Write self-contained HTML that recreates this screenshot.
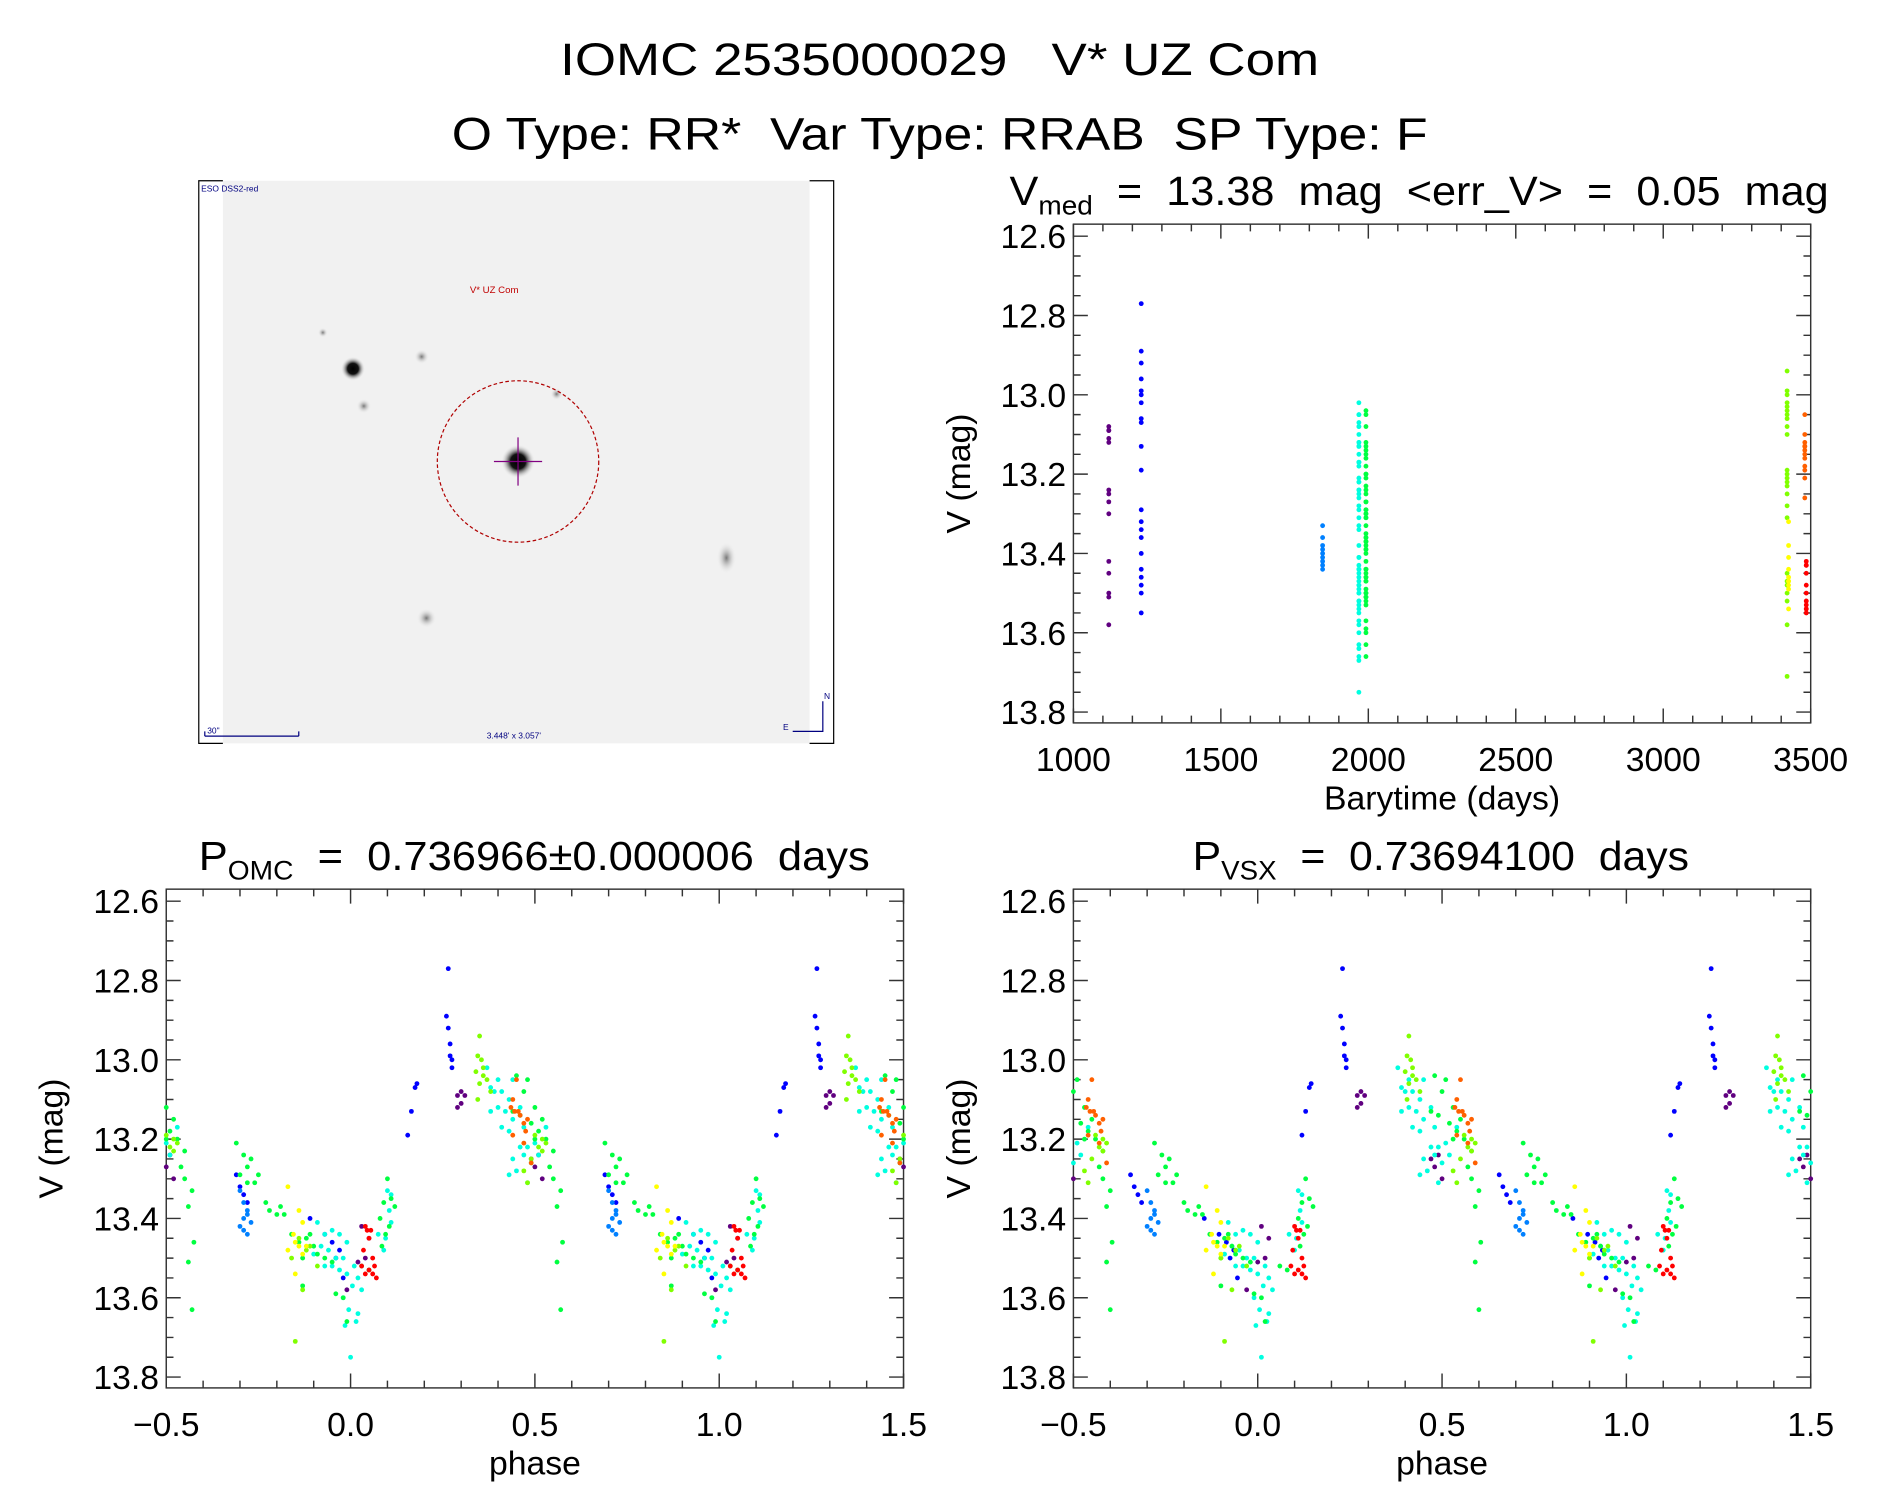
<!DOCTYPE html>
<html><head><meta charset="utf-8">
<style>
html,body{margin:0;padding:0;background:#fff;}
svg{display:block;}
text{font-family:"Liberation Sans","DejaVu Sans",sans-serif;fill:#000;white-space:pre;}
</style></head>
<body>
<svg id="fig" xmlns="http://www.w3.org/2000/svg" width="1889" height="1494" viewBox="0 0 1568 1240">
  <rect x="0" y="0" width="1568" height="1240" fill="#fff"/>
  <text x="465" y="62" font-size="38" textLength="630" lengthAdjust="spacingAndGlyphs" xml:space="preserve">IOMC 2535000029   V* UZ Com</text>
  <text x="375" y="124" font-size="38" textLength="810" lengthAdjust="spacingAndGlyphs" xml:space="preserve">O Type: RR*  Var Type: RRAB  SP Type: F</text>

  <g>
    <defs>
      <radialGradient id="star"><stop offset="0" stop-color="#000"/><stop offset="0.45" stop-color="#111"/><stop offset="1" stop-color="#eee" stop-opacity="0"/></radialGradient>
      <radialGradient id="faint"><stop offset="0" stop-color="#777"/><stop offset="1" stop-color="#eee" stop-opacity="0"/></radialGradient>
    </defs>
    <rect x="185" y="150" width="487" height="467" fill="#f1f1f1"/>
    <path d="M185,150 H165 V617 H185 M672,150 H692 V617 H672" fill="none" stroke="#000" stroke-width="1"/>
    <circle cx="430" cy="383" r="14" fill="url(#star)"/>
    <circle cx="293" cy="306" r="10" fill="url(#star)"/>
    <circle cx="350" cy="296" r="6" fill="url(#faint)"/>
    <circle cx="302" cy="337" r="6" fill="url(#faint)"/>
    <circle cx="462" cy="327" r="5" fill="url(#faint)"/>
    <circle cx="354" cy="513" r="8" fill="url(#faint)"/>
    <ellipse cx="603" cy="463" rx="8" ry="13" fill="url(#faint)"/>
    <circle cx="268" cy="276" r="4" fill="url(#faint)"/>
    <circle cx="430" cy="383" r="67" fill="none" stroke="#b00000" stroke-width="1" stroke-dasharray="3,2"/>
    <path d="M410,383 H450 M430,363 V403" stroke="#800080" stroke-width="1"/>
    <text x="390" y="243" font-size="8" style="fill:#c00000">V* UZ Com</text>
    <text x="167" y="159" font-size="7" style="fill:#000080">ESO DSS2-red</text>
    <path d="M170,611 H248 M170,607 V611 M248,607 V611" stroke="#000080" stroke-width="1"/>
    <text x="172" y="609" font-size="7" style="fill:#000080">30"</text>
    <text x="404" y="613" font-size="7" style="fill:#000080">3.448' x 3.057'</text>
    <path d="M683,582 V607 H658" fill="none" stroke="#000080" stroke-width="1"/>
    <text x="684" y="580" font-size="7" style="fill:#000080">N</text>
    <text x="650" y="606" font-size="7" style="fill:#000080">E</text>
  </g>

  <g id="p-time"></g>
  <g id="p-omc"></g>
  <g id="p-vsx"></g>
</svg>
<script>
// ---- data ----
const groupColors = ["#600080","#0000ff","#0080ff","#00ffe0","#00ff40","#80ff00","#ffff00","#ff6000","#ff0000"];
const groupTimes = [1120,1230,1845,1968,1992,3420,3425,3480,3485];
const vsxPhaseShift = [-0.02,-0.035,0,0.01,0.03,0.06,0.03,0.1,0.06];
const purplePts = [[0.29,13.09],[0.30,13.08],[0.31,13.09],[0.30,13.11],[0.29,13.12],[0.49,13.25],[0.51,13.24],[0.50,13.27],[0.52,13.3],[0.03,13.42],[0.05,13.45],[0.04,13.5],[0.02,13.51],[0.99,13.58]];
const bluePts = [[0.265,12.77],[0.26,12.89],[0.265,12.92],[0.27,12.96],[0.27,12.99],[0.275,13.0],[0.275,13.02],[0.18,13.06],[0.175,13.07],[0.165,13.13],[0.155,13.19],[0.69,13.29],[0.70,13.32],[0.71,13.34],[0.72,13.36],[0.89,13.4],[0.93,13.44],[0.95,13.46],[0.97,13.48],[0.96,13.5],[0.98,13.55]];
const lightBluePts = [[0.70,13.33],[0.71,13.36],[0.72,13.38],[0.72,13.39],[0.71,13.40],[0.73,13.41],[0.70,13.42],[0.71,13.43],[0.72,13.44]];
const cyanPts = [[0.37,13.02],[0.40,13.05],[0.38,13.07],[0.39,13.08],[0.41,13.08],[0.44,13.05],[0.40,13.12],[0.43,13.1],[0.42,13.13],[0.46,13.12],[0.38,13.13],[0.44,13.15],[0.47,13.17],[0.41,13.17],[0.43,13.18],[0.50,13.21],[0.48,13.22],[0.46,13.22],[0.44,13.25],[0.47,13.24],[0.53,13.17],[0.45,13.28],[0.49,13.26],[0.51,13.24],[0.43,13.29],[0.48,13.31],[0.91,13.41],[0.93,13.44],[0.95,13.43],[0.97,13.44],[0.92,13.47],[0.94,13.48],[0.96,13.5],[0.98,13.5],[0.99,13.46],[0.90,13.49],[0.93,13.52],[0.95,13.52],[0.97,13.53],[0.99,13.54],[0.01,13.52],[0.02,13.55],[0.005,13.57],[0.98,13.6],[0.995,13.63],[0.02,13.64],[0.985,13.67],[0.015,13.66],[0.0,13.75],[0.03,13.58],[0.10,13.33],[0.11,13.34],[0.105,13.38],[0.095,13.45],[0.11,13.41],[0.09,13.48],[0.075,13.44]];
const greenPts = [[0.45,13.04],[0.48,13.05],[0.47,13.08],[0.50,13.12],[0.44,13.13],[0.46,13.14],[0.52,13.15],[0.49,13.16],[0.51,13.18],[0.53,13.20],[0.55,13.23],[0.50,13.2],[0.54,13.27],[0.55,13.3],[0.57,13.33],[0.56,13.37],[0.575,13.46],[0.56,13.51],[0.57,13.63],[0.69,13.21],[0.71,13.24],[0.72,13.27],[0.73,13.25],[0.70,13.29],[0.72,13.31],[0.74,13.31],[0.75,13.29],[0.77,13.36],[0.78,13.38],[0.80,13.39],[0.82,13.39],[0.81,13.37],[0.84,13.44],[0.86,13.46],[0.88,13.45],[0.90,13.47],[0.87,13.5],[0.91,13.49],[0.93,13.5],[0.95,13.51],[0.89,13.44],[0.87,13.57],[0.96,13.59],[0.03,13.52],[0.05,13.53],[0.08,13.4],[0.09,13.36],[0.10,13.3],[0.11,13.35],[0.12,13.37],[0.095,13.44],[0.085,13.47],[0.105,13.42],[0.98,13.6],[0.99,13.66]];
const yellowGreenPts = [[0.35,12.94],[0.345,12.99],[0.355,13.0],[0.36,13.02],[0.36,13.04],[0.35,13.06],[0.34,13.03],[0.37,13.05],[0.38,13.08],[0.345,13.1],[0.50,13.19],[0.52,13.2],[0.53,13.21],[0.51,13.22],[0.52,13.23],[0.49,13.25],[0.48,13.31],[0.47,13.28],[0.86,13.45],[0.88,13.48],[0.89,13.47],[0.84,13.5],[0.91,13.52],[0.87,13.58],[0.85,13.71]];
const yellowPts = [[0.83,13.32],[0.86,13.38],[0.87,13.41],[0.845,13.44],[0.85,13.46],[0.86,13.47],[0.87,13.49],[0.83,13.48],[0.85,13.54],[0.88,13.47]];
const orangePts = [[0.45,13.05],[0.44,13.1],[0.435,13.12],[0.445,13.13],[0.455,13.13],[0.46,13.14],[0.47,13.16],[0.475,13.18],[0.44,13.19],[0.47,13.21],[0.49,13.26],[0.48,13.15]];
const redPts = [[0.04,13.42],[0.045,13.43],[0.055,13.43],[0.05,13.45],[0.035,13.48],[0.06,13.5],[0.065,13.52],[0.05,13.53],[0.06,13.54],[0.04,13.54],[0.07,13.55],[0.03,13.52]];
const groups = [purplePts,bluePts,lightBluePts,cyanPts,greenPts,yellowGreenPts,yellowPts,orangePts,redPts];
const magTicks = ["12.6","12.8","13.0","13.2","13.4","13.6","13.8"];
const timeTicks = ["1000","1500","2000","2500","3000","3500"];
const phaseTicks = ["\u22120.5","0.0","0.5","1.0","1.5"];

const NS = "http://www.w3.org/2000/svg";
function mk(parent, tag, attrs, text) {
  const e = document.createElementNS(NS, tag);
  for (const k in attrs) e.setAttribute(k, attrs[k]);
  if (text !== undefined) e.textContent = text;
  parent.appendChild(e);
  return e;
}

function axes(g, box, xmin, xmax, xMajor, xMinor, xLabels, xTitle) {
  const [L, T, R, B] = box;
  const ymin = 12.6 - 10 / 329.2, ymax = 13.8 + 9 / 329.2;
  const sx = v => L + (v - xmin) / (xmax - xmin) * (R - L);
  const sy = v => T + (v - ymin) / (ymax - ymin) * (B - T);
  const frame = mk(g, "rect", {x: L, y: T, width: R - L, height: B - T, fill: "none", stroke: "#333", "stroke-width": 1.2});
  
  
  let d = "";
  for (let i = 0; i <= 24; i++) {
    const v = 12.6 + i * 0.05, y = sy(v), len = (i % 4 === 0) ? 12 : 6;
    d += `M${L},${y}h${len}M${R},${y}h${-len}`;
  }
  const nMin = Math.round((xmax - xmin) / xMinor);
  for (let i = 0; i <= nMin; i++) {
    const v = xmin + i * xMinor, x = sx(v);
    const len = (Math.abs(((v - xmin) / xMajor) - Math.round((v - xmin) / xMajor)) < 1e-6) ? 12 : 6;
    d += `M${x},${B}v${-len}M${x},${T}v${len}`;
  }
  const ticks = mk(g, "path", {d: d, stroke: "#333", "stroke-width": 1.2, fill: "none"});
  
  
  magTicks.forEach(s => {
    const t = mk(g, "text", {x: L - 6, y: sy(parseFloat(s)) + 10, "font-size": 28, "text-anchor": "end"}, s);
    
    
  });
  xLabels.forEach((s, i) => {
    const t = mk(g, "text", {x: sx(xmin + i * xMajor), y: B + 40, "font-size": 28, "text-anchor": "middle"}, s);
    
    
  });
  const yt = mk(g, "text", {x: 0, y: 0, "font-size": 28, "text-anchor": "middle", transform: `translate(${L - 86},${(T + B) / 2}) rotate(-90)`}, "V (mag)");
  
  
  const xt = mk(g, "text", {x: (L + R) / 2, y: B + 72, "font-size": 28, "text-anchor": "middle"}, xTitle);
  
  
  return {sx, sy};
}

// time plot
(function () {
  const g = document.getElementById("p-time");
  const ax = axes(g, [891, 186, 1503, 600], 1000, 3500, 500, 100, timeTicks, "Barytime (days)");
  const t = mk(g, "text", {x: 838, y: 170, "font-size": 34, textLength: 680, lengthAdjust: "spacingAndGlyphs"}, "");
  
  
  mk(t, "tspan", {}, "V");
  mk(t, "tspan", {"font-size": 22, dy: 8}, "med");
  mk(t, "tspan", {dy: -8}, "  =  13.38  mag  <err_V>  =  0.05  mag");
  groups.forEach((pts, gi) => {
    pts.forEach(p => {
      const c = mk(g, "circle", {cx: ax.sx(groupTimes[gi]), cy: ax.sy(p[1]), r: 2, fill: groupColors[gi]});
      
      
    });
  });
})();

function phasePlot(id, box, shifts, titleMain, titleSub, titleRest, tx, tlen) {
  const g = document.getElementById(id);
  const ax = axes(g, box, -0.5, 1.5, 0.5, 0.1, phaseTicks, "phase");
  const t = mk(g, "text", {x: tx, y: 722, "font-size": 34, textLength: tlen, lengthAdjust: "spacingAndGlyphs"}, "");
  
  
  mk(t, "tspan", {}, titleMain);
  mk(t, "tspan", {"font-size": 22, dy: 8}, titleSub);
  mk(t, "tspan", {dy: -8}, titleRest);
  groups.forEach((pts, gi) => {
    pts.forEach(p => {
      let ph = p[0] + shifts[gi];
      ph = ph - Math.floor(ph);
      [-1, 0, 1].forEach(k => {
        const v = ph + k;
        if (v < -0.5 || v > 1.5) return;
        const c = mk(g, "circle", {cx: ax.sx(v), cy: ax.sy(p[1]), r: 2, fill: groupColors[gi]});
        
        
      });
    });
  });
}
phasePlot("p-omc", [138, 738, 750, 1152], groupColors.map(() => 0), "P", "OMC", "  =  0.736966\u00b10.000006  days", 165, 557);
phasePlot("p-vsx", [891, 738, 1503, 1152], vsxPhaseShift, "P", "VSX", "  =  0.73694100  days", 990, 412);
</script>
</body></html>
